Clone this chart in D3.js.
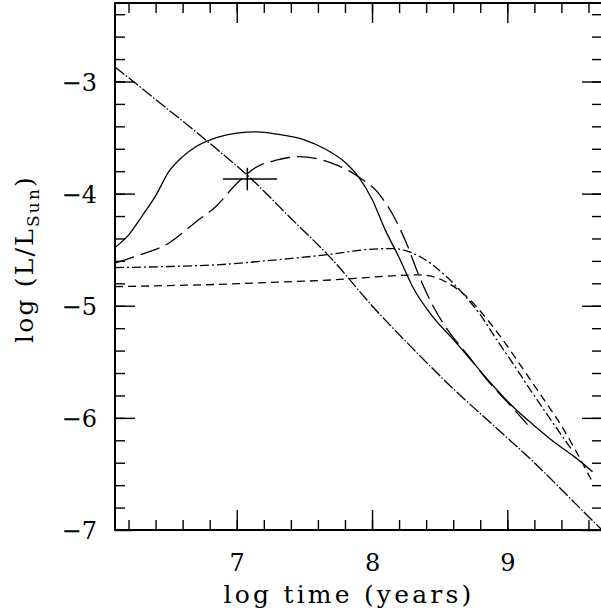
<!DOCTYPE html>
<html>
<head>
<meta charset="utf-8">
<script src="https://cdn.jsdelivr.net/npm/d3@7"></script>
<style>
  body { margin: 0; background: #fff; }
  svg text { font-family: "DejaVu Serif", serif; fill: #000; }
</style>
</head>
<body>
<div id="container"></div>
<script>
/* CONSTANTS AND GLOBALS */
const width = 601,
  height = 615,
  margin = { top: 3, bottom: 85, left: 115, right: -1 };

/* DATA (log time, log L/Lsun) */
const solidX = [6.1, 6.2, 6.3, 6.4, 6.5, 6.6, 6.7, 6.85, 7.0, 7.15, 7.3, 7.5, 7.65, 7.8, 7.9, 8.0, 8.1, 8.2, 8.3, 8.45, 8.6, 8.75, 8.9, 9.05, 9.2, 9.35, 9.5, 9.63];
const solidY = [-4.48, -4.37, -4.2, -4.02, -3.8, -3.67, -3.58, -3.5, -3.46, -3.45, -3.47, -3.52, -3.6, -3.72, -3.85, -4.05, -4.33, -4.57, -4.83, -5.1, -5.3, -5.51, -5.72, -5.91, -6.07, -6.22, -6.35, -6.48];

const longDashX = [6.1, 6.25, 6.5, 6.7, 6.85, 7.0, 7.15, 7.3, 7.45, 7.6, 7.75, 7.9, 8.05, 8.15, 8.25, 8.35, 8.45, 8.55, 8.7, 8.85, 9.0, 9.15];
const longDashY = [-4.62, -4.56, -4.44, -4.25, -4.11, -3.91, -3.76, -3.7, -3.67, -3.69, -3.75, -3.85, -4.0, -4.18, -4.43, -4.74, -5.0, -5.2, -5.43, -5.66, -5.86, -6.06];

const dashDotX = [6.1, 6.5, 6.85, 7.3, 7.7, 7.95, 8.15, 8.3, 8.43, 8.55, 8.67, 8.8, 8.92, 9.05, 9.17, 9.3, 9.48];
const dashDotY = [-4.66, -4.65, -4.635, -4.59, -4.54, -4.5, -4.49, -4.53, -4.62, -4.74, -4.89, -5.08, -5.3, -5.53, -5.75, -5.98, -6.29];

const shortDashX = [6.1, 6.5, 6.85, 7.3, 7.7, 8.0, 8.2, 8.35, 8.45, 8.55, 8.7, 8.85, 9.0, 9.12, 9.25, 9.4, 9.5, 9.62];
const shortDashY = [-4.83, -4.82, -4.81, -4.79, -4.77, -4.745, -4.73, -4.725, -4.74, -4.79, -4.92, -5.12, -5.36, -5.57, -5.8, -6.07, -6.28, -6.55];

const coolX = [6.1, 6.4, 6.8, 7.1, 7.4, 7.7, 8.0, 8.3, 8.6, 8.9, 9.2, 9.5, 9.7];
const coolY = [-2.87, -3.16, -3.55, -3.86, -4.22, -4.58, -5.0, -5.38, -5.74, -6.07, -6.4, -6.76, -7.0];

// observed point with error bars
const obsX = 7.078, obsY = -3.87;
const obsXerr = [0.18, 0.22], obsYerr = [0.1, 0.1];

const xMajor = [7, 8, 9];
const yMajor = [-7, -6, -5, -4, -3];
const xMinor = d3.range(6.2, 9.61, 0.2);
const yMinor = d3.range(-6.8, -2.39, 0.2);

const series = [
  { x: solidX, y: solidY, dash: null },
  { x: longDashX, y: longDashY, dash: "20,7" },
  { x: dashDotX, y: dashDotY, dash: "9,3,2,3" },
  { x: shortDashX, y: shortDashY, dash: "8,5" },
  { x: coolX, y: coolY, dash: "12,2,1.5,2" }
];

/* SCALES */
const xScale = d3.scaleLinear()
  .domain([6.1, 9.7])
  .range([margin.left, width - margin.right]);

const yScale = d3.scaleLinear()
  .domain([-7, -2.3])
  .range([height - margin.bottom, margin.top]);

/* DRAW */
const svg = d3.select("#container")
  .append("svg")
  .attr("width", width)
  .attr("height", height);

const fmt = d => d3.format("d")(d).replace("-", "\u2212");

function ticks(axis, pos, vals, size, labels) {
  const g = svg.append("g")
    .attr("transform", pos)
    .call(axis.tickValues(vals).tickSize(size).tickSizeOuter(0).tickFormat(labels ? fmt : ""));
  g.select(".domain").remove();
  g.selectAll(".tick line").attr("stroke", "#000").attr("stroke-width", 1.4);
  return g;
}

const bottomY = yScale(-7), topY = yScale(-2.3);
const leftX = xScale(6.1), rightX = xScale(9.7);

// inward ticks on all four sides
ticks(d3.axisBottom(xScale), `translate(0,${bottomY})`, xMinor, -10, false);
const xAx = ticks(d3.axisBottom(xScale), `translate(0,${bottomY})`, xMajor, -20, true);
xAx.selectAll("text").attr("y", 27).attr("dy", "0.6em").style("font-size", "24px");

ticks(d3.axisTop(xScale), `translate(0,${topY})`, xMinor, -10, false);
ticks(d3.axisTop(xScale), `translate(0,${topY})`, xMajor, -20, false);

ticks(d3.axisLeft(yScale), `translate(${leftX},0)`, yMinor, -10, false);
const yAx = ticks(d3.axisLeft(yScale), `translate(${leftX},0)`, yMajor, -20, true);
yAx.selectAll("text").attr("x", -18).attr("dy", "0.36em").style("font-size", "24px");

ticks(d3.axisRight(yScale), `translate(${rightX},0)`, yMinor, -10, false);
ticks(d3.axisRight(yScale), `translate(${rightX},0)`, yMajor, -20, false);

// frame
svg.append("rect")
  .attr("x", leftX)
  .attr("y", topY)
  .attr("width", rightX - leftX)
  .attr("height", bottomY - topY)
  .attr("fill", "none")
  .attr("stroke", "#000")
  .attr("stroke-width", 2);

// curves
const line = d3.line()
  .x(d => xScale(d[0]))
  .y(d => yScale(d[1]))
  .curve(d3.curveMonotoneX);

svg.selectAll("path.curve")
  .data(series)
  .join("path")
  .attr("class", "curve")
  .attr("d", s => line(s.x.map((v, i) => [v, s.y[i]])))
  .attr("fill", "none")
  .attr("stroke", "#000")
  .attr("stroke-width", 1.3)
  .attr("stroke-dasharray", s => s.dash);

// error cross
svg.append("line")
  .attr("x1", xScale(obsX - obsXerr[0])).attr("x2", xScale(obsX + obsXerr[1]))
  .attr("y1", yScale(obsY)).attr("y2", yScale(obsY))
  .attr("stroke", "#000").attr("stroke-width", 1.5);
svg.append("line")
  .attr("x1", xScale(obsX)).attr("x2", xScale(obsX))
  .attr("y1", yScale(obsY - obsYerr[0])).attr("y2", yScale(obsY + obsYerr[1]))
  .attr("stroke", "#000").attr("stroke-width", 1.5);

// axis titles
svg.append("text")
  .attr("x", 349)
  .attr("y", 603)
  .attr("text-anchor", "middle")
  .style("font-size", "25px")
  .style("letter-spacing", "3.2px")
  .text("log time (years)");

const yl = svg.append("text")
  .attr("transform", "translate(33,259) rotate(-90)")
  .attr("text-anchor", "middle")
  .style("font-size", "25px")
  .style("letter-spacing", "2.2px");
yl.append("tspan").text("log (L/L");
yl.append("tspan").attr("dy", 6).style("font-size", "17px").text("Sun");
yl.append("tspan").attr("dy", -6).text(")");
</script>
</body>
</html>
